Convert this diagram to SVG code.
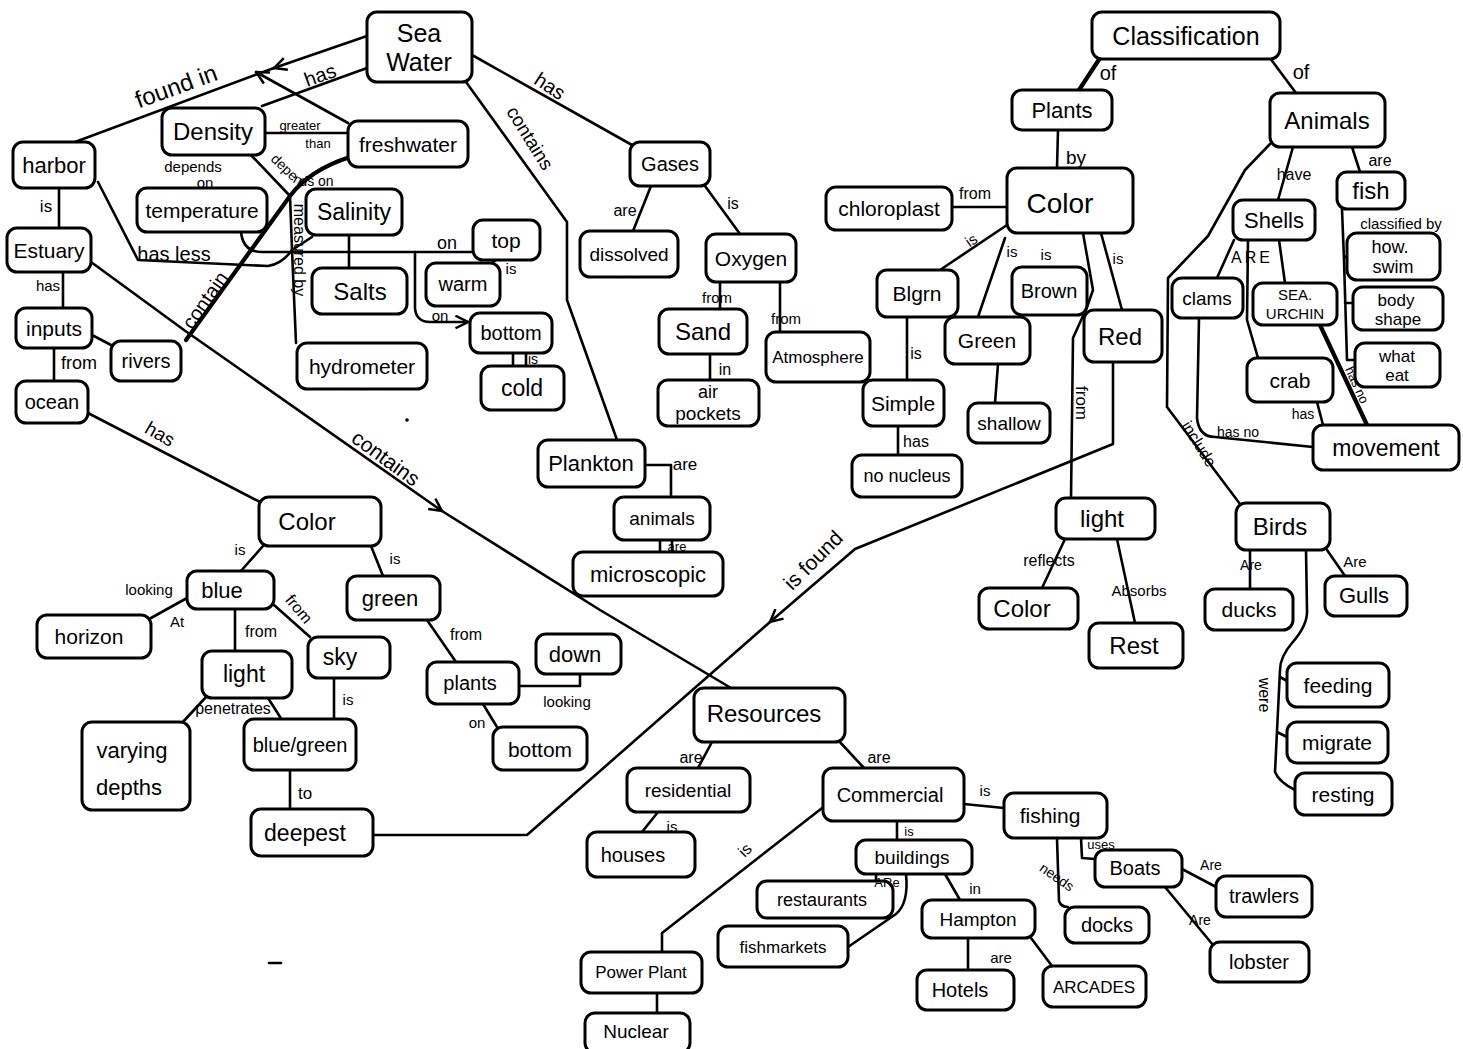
<svg xmlns="http://www.w3.org/2000/svg" width="1463" height="1049" viewBox="0 0 1463 1049">
<style>
.bg{fill:#fff}
.c{fill:none;stroke:#000;stroke-width:2.6;stroke-linecap:round;stroke-linejoin:round}
.k{stroke-width:4.2}
.n rect{fill:#fff;stroke:#000;stroke-width:3;rx:10px;ry:10px}
.n text{font-family:"Liberation Sans",Arial,sans-serif;text-anchor:middle;dominant-baseline:central;fill:#000}
.l{font-family:"Liberation Sans",Arial,sans-serif;text-anchor:middle;dominant-baseline:central;fill:#000}
.tp{font-family:"Liberation Sans",Arial,sans-serif;fill:#000}
</style>
<defs>
<marker id="arr" viewBox="0 0 12 12" refX="11" refY="6" markerWidth="15" markerHeight="15" markerUnits="userSpaceOnUse" orient="auto"><path d="M1,1 L11,6 L1,11" fill="none" stroke="#000" stroke-width="2"/></marker>
<path id="p-dep" d="M270,160 L292,181 Q297,186 305,186 L375,186"/>
</defs>
<rect class="bg" x="0" y="0" width="1463" height="1049"/>

<g id="connectors">
<path class="c" d="M367,36 L274,68" marker-end="url(#arr)"/>
<path class="c" d="M274,68 L75,142"/>
<path class="c" d="M348,123 L256,72" marker-end="url(#arr)"/>
<path class="c" d="M367,68 L262,106"/>
<path class="c" d="M472,55 L632,145"/>
<path class="c" d="M466,82 L567,222 L567,300 L617,440"/>
<path class="c" d="M265,133 L348,133"/>
<path class="c" d="M250,154 L290,196 L292,250 L296,343"/>
<path class="c k" d="M350,157 C322,166 302,180 290,196 L186,340"/>
<path class="c" d="M312,237 L292,250"/>
<path class="c" d="M98,182 L138,260 L268,266 Q282,264 292,250"/>
<path class="c" d="M241,232 Q243,252 262,252 L473,252"/>
<path class="c" d="M415,252 L415,308 Q416,322 430,322 L468,322" marker-end="url(#arr)"/>
<path class="c" d="M349,235 L349,268"/>
<path class="c" d="M497,259 L488,266"/>
<path class="c" d="M513,353 L513,366 M526,353 L526,366"/>
<path class="c" d="M59,188 L59,228"/>
<path class="c" d="M63,272 L63,308"/>
<path class="c" d="M92,335 L111,345"/>
<path class="c" d="M54,348 L54,381"/>
<path class="c" d="M91,262 L184,330 L442,511" marker-end="url(#arr)"/>
<path class="c" d="M442,511 L600,610 L731,688"/>
<path class="c" d="M86,412 L260,502"/>
<path class="c" d="M263,546 L240,572"/>
<path class="c" d="M371,546 L383,576"/>
<path class="c" d="M187,598 L151,618"/>
<path class="c" d="M235,609 L235,652"/>
<path class="c" d="M274,605 L310,637"/>
<path class="c" d="M206,697 L182,723"/>
<path class="c" d="M268,698 L282,720"/>
<path class="c" d="M334,678 L334,719"/>
<path class="c" d="M290,770 L290,809"/>
<path class="c" d="M1113,362 L1113,444 L855,549 L770,622" marker-end="url(#arr)"/>
<path class="c" d="M770,622 L527,835 L373,835"/>
<path class="c" d="M427,620 L456,662"/>
<path class="c" d="M519,686 L580,686 L580,674"/>
<path class="c" d="M483,704 L497,727"/>
<path class="c" d="M651,186 L633,231"/>
<path class="c" d="M705,186 L740,234"/>
<path class="c" d="M720,282 L720,309"/>
<path class="c" d="M780,282 L780,332"/>
<path class="c" d="M710,354 L710,380"/>
<path class="c" d="M645,465 L671,465 L671,497"/>
<path class="c" d="M660,540 L660,552 M672,540 L672,552"/>
<path class="c k" d="M1100,58 L1079,90"/>
<path class="c" d="M1270,58 L1296,93"/>
<path class="c" d="M1058,130 L1057,168"/>
<path class="c" d="M952,207 L1007,207"/>
<path class="c" d="M1007,225 L940,270"/>
<path class="c" d="M1005,238 L978,317"/>
<path class="c" d="M1083,233 L1093,290 L1087,307 L1073,338 L1071,498"/>
<path class="c" d="M1101,233 L1122,310"/>
<path class="c" d="M998,364 L995,403"/>
<path class="c" d="M907,317 L907,380"/>
<path class="c" d="M898,426 L898,455"/>
<path class="c" d="M1065,539 L1042,588"/>
<path class="c" d="M1117,539 L1135,623"/>
<path class="c" d="M1293,147 L1278,200"/>
<path class="c" d="M1352,147 L1360,172"/>
<path class="c" d="M1342,209 L1344,260 L1347,360 L1355,360 M1344,258 L1348,255 M1345,303 L1353,303"/>
<path class="c" d="M1270,144 L1245,170 L1208,236 L1168,278 L1167,407 L1240,504"/>
<path class="c" d="M1234,240 L1217,278"/>
<path class="c" d="M1248,240 L1247,320 L1258,358"/>
<path class="c" d="M1279,240 L1285,283"/>
<path class="c" d="M1317,402 L1323,425"/>
<path class="c" d="M1199,318 L1197,418 Q1199,437 1215,437 L1313,447"/>
<path class="c k" d="M1320,325 L1367,425"/>
<path class="c" d="M1250,550 L1250,589"/>
<path class="c" d="M1327,550 L1345,576"/>
<path class="c" d="M1306,550 L1307,610 Q1308,625 1292,643 Q1280,657 1280,670 L1275,772 Q1279,782 1295,790 M1280,677 L1287,681 M1277,732 L1287,737"/>
<path class="c" d="M712,742 L698,768"/>
<path class="c" d="M838,740 L864,768"/>
<path class="c" d="M658,812 L642,832"/>
<path class="c" d="M964,804 L1004,808"/>
<path class="c" d="M897,821 L897,840"/>
<path class="c" d="M826,805 L662,933 L662,952"/>
<path class="c" d="M876,874 L876,881"/>
<path class="c" d="M906,874 Q909,903 896,914 L848,947"/>
<path class="c" d="M945,874 L960,900"/>
<path class="c" d="M968,938 L968,970"/>
<path class="c" d="M1031,938 L1052,966"/>
<path class="c" d="M1057,838 L1059,901 Q1061,907 1068,907"/>
<path class="c" d="M1081,838 L1082,858 L1095,859"/>
<path class="c" d="M1182,869 L1218,888"/>
<path class="c" d="M1165,887 L1213,945"/>
<path class="c" d="M657,993 L657,1013"/>
<path class="c" d="M269,963 L281,963"/>
<circle cx="407" cy="420" r="1.8" fill="#000"/>
</g>

<g id="n-seawater" class="n"><rect x="367" y="12" width="105" height="70"/><text x="419" y="33" font-size="25">Sea</text><text x="419" y="62" font-size="25">Water</text></g>
<g id="n-harbor" class="n"><rect x="13" y="142" width="82" height="46"/><text x="54" y="165" font-size="22">harbor</text></g>
<g id="n-density" class="n"><rect x="162" y="108" width="103" height="47"/><text x="213" y="131" font-size="24">Density</text></g>
<g id="n-freshwater" class="n"><rect x="348" y="121" width="120" height="46"/><text x="408" y="144" font-size="21">freshwater</text></g>
<g id="n-temperature" class="n"><rect x="137" y="188" width="130" height="44"/><text x="202" y="210" font-size="21">temperature</text></g>
<g id="n-salinity" class="n"><rect x="306" y="189" width="96" height="46"/><text x="354" y="212" font-size="23">Salinity</text></g>
<g id="n-estuary" class="n"><rect x="7" y="228" width="84" height="44"/><text x="49" y="250" font-size="21">Estuary</text></g>
<g id="n-top" class="n"><rect x="473" y="220" width="67" height="40"/><text x="506" y="240" font-size="21">top</text></g>
<g id="n-warm" class="n"><rect x="426" y="263" width="74" height="43"/><text x="463" y="284" font-size="20">warm</text></g>
<g id="n-salts" class="n"><rect x="312" y="268" width="95" height="46"/><text x="360" y="291" font-size="24">Salts</text></g>
<g id="n-inputs" class="n"><rect x="16" y="308" width="76" height="40"/><text x="54" y="328" font-size="21">inputs</text></g>
<g id="n-rivers" class="n"><rect x="111" y="341" width="70" height="40"/><text x="146" y="361" font-size="20">rivers</text></g>
<g id="n-bottom1" class="n"><rect x="470" y="313" width="82" height="40"/><text x="511" y="333" font-size="20">bottom</text></g>
<g id="n-cold" class="n"><rect x="481" y="366" width="83" height="44"/><text x="522" y="388" font-size="23">cold</text></g>
<g id="n-hydrometer" class="n"><rect x="297" y="343" width="130" height="46"/><text x="362" y="366" font-size="21">hydrometer</text></g>
<g id="n-ocean" class="n"><rect x="16" y="381" width="72" height="42"/><text x="52" y="402" font-size="20">ocean</text></g>
<g id="n-gases" class="n"><rect x="630" y="142" width="80" height="44"/><text x="670" y="164" font-size="20">Gases</text></g>
<g id="n-dissolved" class="n"><rect x="580" y="231" width="98" height="46"/><text x="629" y="254" font-size="19">dissolved</text></g>
<g id="n-oxygen" class="n"><rect x="706" y="234" width="90" height="48"/><text x="751" y="258" font-size="21">Oxygen</text></g>
<g id="n-sand" class="n"><rect x="659" y="309" width="88" height="45"/><text x="703" y="331" font-size="24">Sand</text></g>
<g id="n-atmosphere" class="n"><rect x="766" y="332" width="104" height="50"/><text x="818" y="357" font-size="17">Atmosphere</text></g>
<g id="n-airpockets" class="n"><rect x="658" y="380" width="101" height="46"/><text x="708" y="392" font-size="18">air</text><text x="708" y="413" font-size="19">pockets</text></g>
<g id="n-plankton" class="n"><rect x="538" y="440" width="107" height="47"/><text x="591" y="463" font-size="22">Plankton</text></g>
<g id="n-animals1" class="n"><rect x="614" y="497" width="96" height="43"/><text x="662" y="518" font-size="19">animals</text></g>
<g id="n-microscopic" class="n"><rect x="573" y="552" width="150" height="44"/><text x="648" y="574" font-size="22">microscopic</text></g>
<g id="n-classification" class="n"><rect x="1092" y="12" width="188" height="47"/><text x="1186" y="36" font-size="25">Classification</text></g>
<g id="n-plants1" class="n"><rect x="1012" y="90" width="100" height="40"/><text x="1062" y="110" font-size="22">Plants</text></g>
<g id="n-animals2" class="n"><rect x="1270" y="93" width="115" height="54"/><text x="1327" y="120" font-size="24">Animals</text></g>
<g id="n-color1" class="n"><rect x="1007" y="168" width="126" height="65"/><text x="1060" y="203" font-size="28">Color</text></g>
<g id="n-chloroplast" class="n"><rect x="826" y="187" width="126" height="43"/><text x="889" y="208" font-size="21">chloroplast</text></g>
<g id="n-fish" class="n"><rect x="1337" y="172" width="68" height="37"/><text x="1371" y="190" font-size="24">fish</text></g>
<g id="n-shells" class="n"><rect x="1233" y="200" width="82" height="40"/><text x="1274" y="220" font-size="22">Shells</text></g>
<g id="n-howswim" class="n"><rect x="1347" y="233" width="93" height="47"/><text x="1390" y="247" font-size="18">how.</text><text x="1393" y="267" font-size="18">swim</text></g>
<g id="n-blgrn" class="n"><rect x="877" y="270" width="81" height="47"/><text x="917" y="293" font-size="21">Blgrn</text></g>
<g id="n-brown" class="n"><rect x="1012" y="267" width="75" height="48"/><text x="1049" y="291" font-size="20">Brown</text></g>
<g id="n-clams" class="n"><rect x="1172" y="278" width="71" height="40"/><text x="1207" y="298" font-size="19">clams</text></g>
<g id="n-seaurchin" class="n"><rect x="1253" y="283" width="84" height="42"/><text x="1295" y="294" font-size="15">SEA.</text><text x="1295" y="313" font-size="15">URCHIN</text></g>
<g id="n-bodyshape" class="n"><rect x="1353" y="287" width="90" height="43"/><text x="1396" y="300" font-size="17">body</text><text x="1398" y="319" font-size="17">shape</text></g>
<g id="n-green1" class="n"><rect x="945" y="317" width="85" height="47"/><text x="987" y="340" font-size="21">Green</text></g>
<g id="n-red" class="n"><rect x="1084" y="310" width="78" height="52"/><text x="1120" y="336" font-size="24">Red</text></g>
<g id="n-whateat" class="n"><rect x="1355" y="343" width="85" height="44"/><text x="1397" y="356" font-size="17">what</text><text x="1397" y="375" font-size="17">eat</text></g>
<g id="n-crab" class="n"><rect x="1247" y="358" width="86" height="44"/><text x="1290" y="380" font-size="21">crab</text></g>
<g id="n-simple" class="n"><rect x="863" y="380" width="81" height="46"/><text x="903" y="403" font-size="21">Simple</text></g>
<g id="n-shallow" class="n"><rect x="968" y="403" width="82" height="40"/><text x="1009" y="423" font-size="19">shallow</text></g>
<g id="n-movement" class="n"><rect x="1313" y="425" width="146" height="45"/><text x="1386" y="448" font-size="23">movement</text></g>
<g id="n-nonucleus" class="n"><rect x="852" y="455" width="110" height="42"/><text x="907" y="476" font-size="18">no nucleus</text></g>
<g id="n-light1" class="n"><rect x="1056" y="498" width="99" height="41"/><text x="1102" y="518" font-size="24">light</text></g>
<g id="n-birds" class="n"><rect x="1236" y="503" width="94" height="47"/><text x="1280" y="526" font-size="24">Birds</text></g>
<g id="n-color2" class="n"><rect x="979" y="588" width="99" height="41"/><text x="1022" y="608" font-size="24">Color</text></g>
<g id="n-rest" class="n"><rect x="1089" y="623" width="94" height="45"/><text x="1134" y="645" font-size="24">Rest</text></g>
<g id="n-ducks" class="n"><rect x="1205" y="589" width="88" height="41"/><text x="1249" y="609" font-size="21">ducks</text></g>
<g id="n-gulls" class="n"><rect x="1325" y="576" width="82" height="40"/><text x="1364" y="595" font-size="22">Gulls</text></g>
<g id="n-feeding" class="n"><rect x="1287" y="663" width="102" height="44"/><text x="1338" y="685" font-size="21">feeding</text></g>
<g id="n-migrate" class="n"><rect x="1287" y="722" width="101" height="41"/><text x="1337" y="742" font-size="21">migrate</text></g>
<g id="n-resting" class="n"><rect x="1295" y="773" width="97" height="42"/><text x="1343" y="794" font-size="21">resting</text></g>
<g id="n-color3" class="n"><rect x="259" y="497" width="122" height="49"/><text x="307" y="521" font-size="24">Color</text></g>
<g id="n-blue" class="n"><rect x="187" y="571" width="87" height="38"/><text x="222" y="590" font-size="22">blue</text></g>
<g id="n-horizon" class="n"><rect x="37" y="615" width="114" height="43"/><text x="89" y="636" font-size="21">horizon</text></g>
<g id="n-light2" class="n"><rect x="202" y="651" width="90" height="47"/><text x="244" y="674" font-size="23">light</text></g>
<g id="n-sky" class="n"><rect x="308" y="637" width="82" height="41"/><text x="340" y="657" font-size="23">sky</text></g>
<g id="n-green2" class="n"><rect x="347" y="576" width="93" height="44"/><text x="390" y="598" font-size="22">green</text></g>
<g id="n-plants2" class="n"><rect x="427" y="662" width="92" height="42"/><text x="470" y="683" font-size="20">plants</text></g>
<g id="n-down" class="n"><rect x="536" y="634" width="85" height="40"/><text x="575" y="654" font-size="22">down</text></g>
<g id="n-bottom2" class="n"><rect x="493" y="727" width="94" height="43"/><text x="540" y="749" font-size="21">bottom</text></g>
<g id="n-varying" class="n"><rect x="82" y="722" width="108" height="88"/><text x="132" y="750" font-size="22">varying</text><text x="129" y="787" font-size="22">depths</text></g>
<g id="n-bluegreen" class="n"><rect x="244" y="719" width="112" height="51"/><text x="300" y="745" font-size="20">blue/green</text></g>
<g id="n-deepest" class="n"><rect x="251" y="809" width="122" height="47"/><text x="305" y="833" font-size="23">deepest</text></g>
<g id="n-resources" class="n"><rect x="694" y="688" width="151" height="54"/><text x="764" y="713" font-size="24">Resources</text></g>
<g id="n-residential" class="n"><rect x="627" y="768" width="123" height="44"/><text x="688" y="790" font-size="19">residential</text></g>
<g id="n-commercial" class="n"><rect x="823" y="768" width="141" height="53"/><text x="890" y="795" font-size="20">Commercial</text></g>
<g id="n-houses" class="n"><rect x="587" y="832" width="108" height="45"/><text x="633" y="855" font-size="20">houses</text></g>
<g id="n-fishing" class="n"><rect x="1004" y="793" width="103" height="45"/><text x="1050" y="815" font-size="21">fishing</text></g>
<g id="n-buildings" class="n"><rect x="856" y="840" width="116" height="34"/><text x="912" y="857" font-size="19">buildings</text></g>
<g id="n-boats" class="n"><rect x="1095" y="850" width="87" height="37"/><text x="1135" y="868" font-size="20">Boats</text></g>
<g id="n-restaurants" class="n"><rect x="757" y="881" width="136" height="37"/><text x="822" y="900" font-size="18">restaurants</text></g>
<g id="n-trawlers" class="n"><rect x="1216" y="876" width="96" height="41"/><text x="1264" y="896" font-size="20">trawlers</text></g>
<g id="n-hampton" class="n"><rect x="922" y="900" width="113" height="38"/><text x="978" y="919" font-size="19">Hampton</text></g>
<g id="n-docks" class="n"><rect x="1065" y="907" width="84" height="36"/><text x="1107" y="925" font-size="20">docks</text></g>
<g id="n-fishmarkets" class="n"><rect x="718" y="926" width="130" height="41"/><text x="783" y="947" font-size="17">fishmarkets</text></g>
<g id="n-powerplant" class="n"><rect x="581" y="952" width="121" height="41"/><text x="641" y="972" font-size="17">Power Plant</text></g>
<g id="n-lobster" class="n"><rect x="1210" y="942" width="99" height="40"/><text x="1259" y="962" font-size="20">lobster</text></g>
<g id="n-hotels" class="n"><rect x="917" y="970" width="97" height="40"/><text x="960" y="990" font-size="20">Hotels</text></g>
<g id="n-arcades" class="n"><rect x="1043" y="966" width="103" height="41"/><text x="1094" y="987" font-size="17">ARCADES</text></g>
<g id="n-nuclear" class="n"><rect x="585" y="1013" width="105" height="40"/><text x="636" y="1031" font-size="19">Nuclear</text></g>

<g id="labels">
<text class="l" font-size="24" transform="translate(176,86) rotate(-20)">found in</text>
<text class="l" font-size="20" transform="translate(320,75) rotate(-20)">has</text>
<text class="l" font-size="20" transform="translate(550,86) rotate(33)">has</text>
<text class="l" font-size="19" transform="translate(530,138) rotate(58)">contains</text>
<text class="l" x="300" y="125" font-size="13">greater</text>
<text class="l" x="318" y="143" font-size="13">than</text>
<text class="l" x="193" y="166" font-size="15">depends</text>
<text class="l" x="205" y="182" font-size="15">on</text>
<text class="tp" font-size="14"><textPath href="#p-dep">depends on</textPath></text>
<text class="l" font-size="16" transform="translate(299,250) rotate(90)">measured by</text>
<text class="l" font-size="20" transform="translate(205,300) rotate(-55)">contain</text>
<text class="l" x="174" y="254" font-size="20">has less</text>
<text class="l" x="447" y="243" font-size="18">on</text>
<text class="l" x="440" y="315" font-size="15">on</text>
<text class="l" x="511" y="268" font-size="15">is</text>
<text class="l" x="533" y="359" font-size="14">is</text>
<text class="l" x="46" y="206" font-size="17">is</text>
<text class="l" x="48" y="285" font-size="15">has</text>
<text class="l" x="79" y="363" font-size="18">from</text>
<text class="l" font-size="21" transform="translate(386,458) rotate(36)">contains</text>
<text class="l" font-size="19" transform="translate(160,434) rotate(30)">has</text>
<text class="l" x="240" y="549" font-size="15">is</text>
<text class="l" x="395" y="558" font-size="15">is</text>
<text class="l" x="149" y="589" font-size="15">looking</text>
<text class="l" x="177" y="621" font-size="15">At</text>
<text class="l" x="261" y="631" font-size="16">from</text>
<text class="l" font-size="16" transform="translate(299,609) rotate(50)">from</text>
<text class="l" x="233" y="708" font-size="16">penetrates</text>
<text class="l" x="348" y="699" font-size="15">is</text>
<text class="l" x="305" y="793" font-size="17">to</text>
<text class="l" font-size="21" transform="translate(813,560) rotate(-45)">is found</text>
<text class="l" x="466" y="634" font-size="16">from</text>
<text class="l" x="567" y="701" font-size="15">looking</text>
<text class="l" x="477" y="722" font-size="15">on</text>
<text class="l" x="625" y="210" font-size="16">are</text>
<text class="l" x="733" y="203" font-size="16">is</text>
<text class="l" x="717" y="297" font-size="15">from</text>
<text class="l" x="786" y="318" font-size="15">from</text>
<text class="l" x="725" y="369" font-size="16">in</text>
<text class="l" x="685" y="464" font-size="17">are</text>
<text class="l" x="677" y="546" font-size="13">are</text>
<text class="l" x="1108" y="73" font-size="20">of</text>
<text class="l" x="1301" y="72" font-size="20">of</text>
<text class="l" x="1076" y="157" font-size="19">by</text>
<text class="l" x="975" y="193" font-size="16">from</text>
<text class="l" font-size="15" transform="translate(971,240) rotate(-35)">is</text>
<text class="l" x="1012" y="251" font-size="15">is</text>
<text class="l" x="1046" y="254" font-size="15">is</text>
<text class="l" x="1118" y="258" font-size="15">is</text>
<text class="l" font-size="17" transform="translate(1081,403) rotate(90)">from</text>
<text class="l" x="916" y="353" font-size="16">is</text>
<text class="l" x="916" y="441" font-size="16">has</text>
<text class="l" x="1049" y="560" font-size="16">reflects</text>
<text class="l" x="1139" y="590" font-size="15">Absorbs</text>
<text class="l" x="1294" y="174" font-size="16">have</text>
<text class="l" x="1380" y="160" font-size="16">are</text>
<text class="l" x="1401" y="223" font-size="15">classified by</text>
<text class="l" font-size="16" transform="translate(1199,444) rotate(58)">include</text>
<text class="l" x="1252" y="257" font-size="16" letter-spacing="3">ARE</text>
<text class="l" x="1303" y="414" font-size="14">has</text>
<text class="l" x="1238" y="432" font-size="14">has no</text>
<text class="l" font-size="13" transform="translate(1357,385) rotate(65)">has no</text>
<text class="l" x="1251" y="565" font-size="14">Are</text>
<text class="l" x="1355" y="561" font-size="15">Are</text>
<text class="l" font-size="16" transform="translate(1264,695) rotate(90)">were</text>
<text class="l" x="691" y="757" font-size="16">are</text>
<text class="l" x="879" y="757" font-size="16">are</text>
<text class="l" x="672" y="826" font-size="15">is</text>
<text class="l" x="985" y="790" font-size="15">is</text>
<text class="l" x="909" y="831" font-size="13">is</text>
<text class="l" font-size="16" transform="translate(745,850) rotate(-45)">is</text>
<text class="l" x="887" y="882" font-size="13">ARe</text>
<text class="l" x="975" y="888" font-size="15">in</text>
<text class="l" x="1001" y="957" font-size="15">are</text>
<text class="l" font-size="14" transform="translate(1057,877) rotate(35)">needs</text>
<text class="l" x="1101" y="844" font-size="13">uses</text>
<text class="l" x="1211" y="865" font-size="14">Are</text>
<text class="l" x="1200" y="920" font-size="14">Are</text>
</g>
</svg>
